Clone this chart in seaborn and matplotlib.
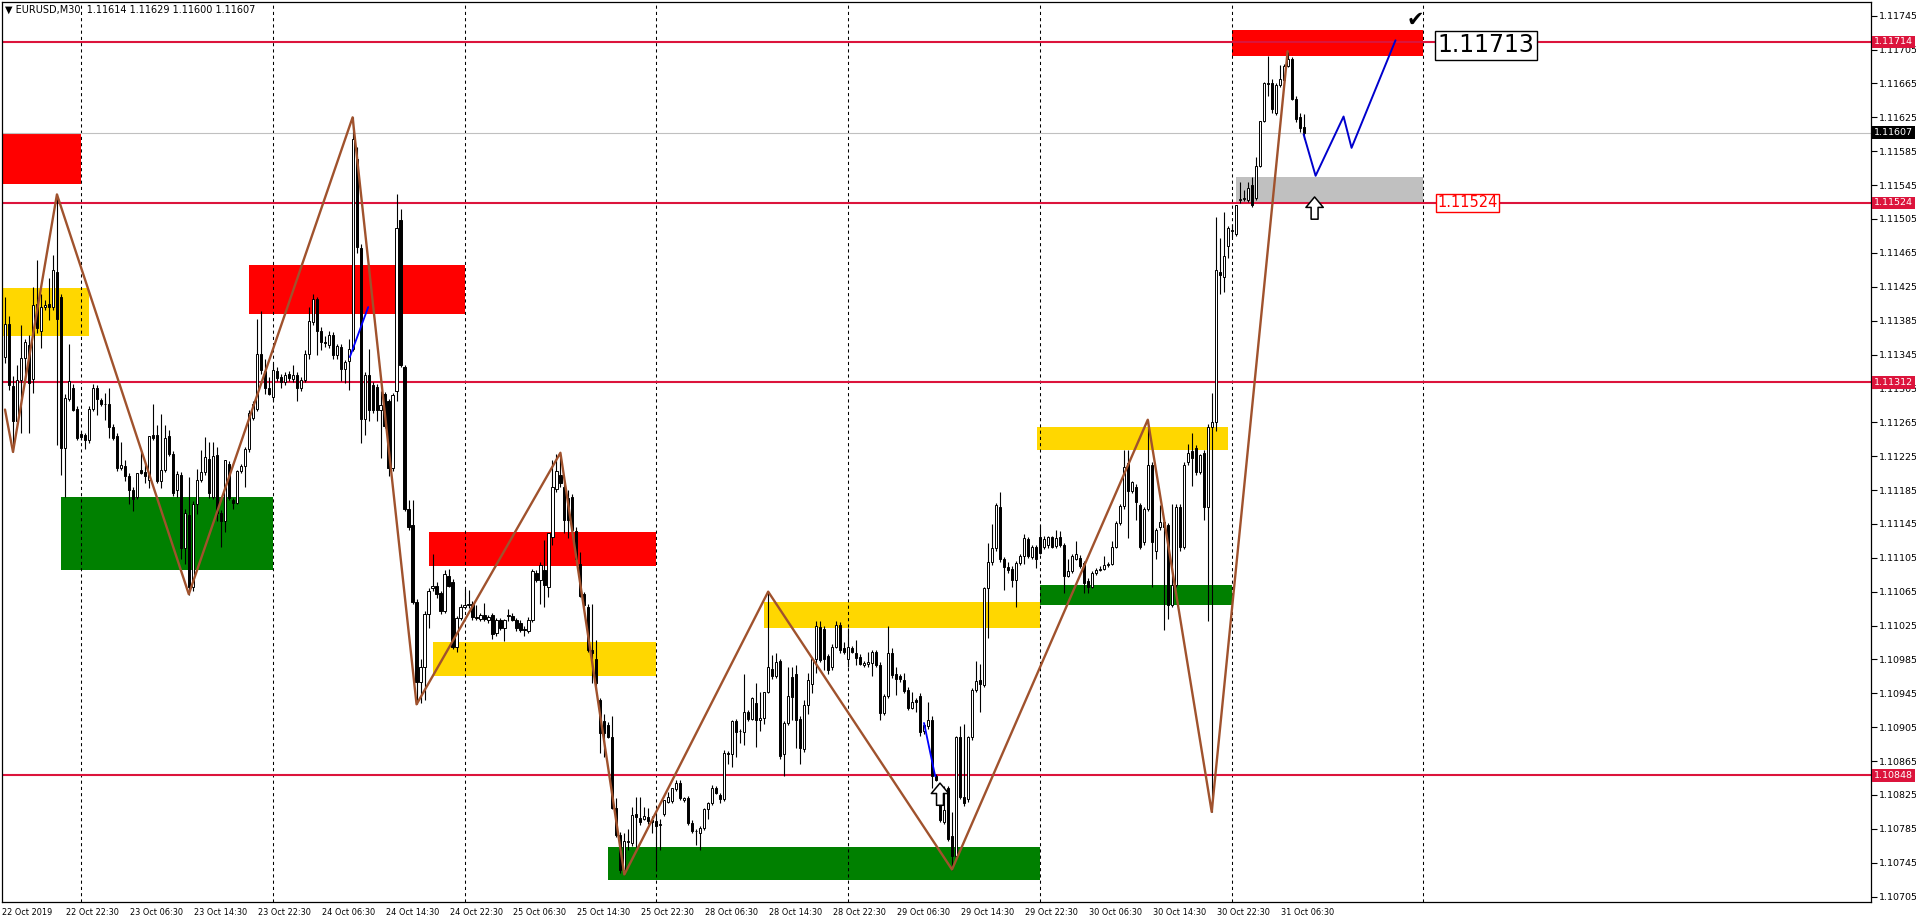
import numpy as np
import pandas as pd
import matplotlib
matplotlib.use("Agg")
import matplotlib.pyplot as plt
import seaborn as sns

# EURUSD M30 candles, values in points above 1.10000
opens = [
    1342, 1381, 1308, 1267, 1315, 1341, 1356, 1316, 1405, 1373,
    1401, 1405, 1401, 1442, 1413, 1235, 1293, 1306, 1281, 1251,
    1250, 1244, 1281, 1305, 1291, 1287, 1287, 1260, 1249, 1211,
    1213, 1202, 1185, 1177, 1209, 1206, 1197, 1250, 1250, 1196,
    1209, 1249, 1228, 1185, 1203, 1116, 1156, 1070, 1168, 1197,
    1206, 1222, 1177, 1226, 1158, 1148, 1216, 1173, 1170, 1207,
    1213, 1234, 1270, 1281, 1346, 1325, 1306, 1295, 1325, 1319,
    1312, 1322, 1316, 1321, 1306, 1315, 1346, 1383, 1410, 1373,
    1360, 1356, 1368, 1344, 1354, 1328, 1337, 1352, 1576, 1471,
    1269, 1321, 1309, 1307, 1279, 1298, 1290, 1211, 1302, 1504,
    1330, 1163, 1144, 1053, 958, 976, 1039, 1069, 1072, 1063,
    1042, 1084, 1077, 1000, 1034, 1047, 1049, 1051, 1035, 1033,
    1037, 1032, 1037, 1016, 1031, 1022, 1036, 1036, 1031, 1028,
    1021, 1019, 1032, 1087, 1079, 1091, 1071, 1130, 1186, 1203,
    1189, 1176, 1177, 1137, 1098, 1062, 1047, 996, 986, 937,
    912, 908, 893, 809, 778, 736, 770, 768, 803, 798,
    797, 799, 795, 794, 790, 803, 817, 818, 832, 839,
    819, 821, 792, 783, 780, 786, 808, 815, 833, 825,
    820, 875, 873, 912, 901, 899, 923, 915, 934, 913,
    916, 947, 974, 966, 983, 873, 910, 964, 968, 915,
    879, 931, 956, 985, 1023, 1021, 989, 976, 1000, 1026,
    999, 986, 999, 993, 988, 978, 980, 981, 994, 979,
    922, 942, 993, 968, 965, 961, 949, 928, 937, 942,
    900, 906, 914, 847, 834, 793, 833, 777, 753, 894,
    823, 820, 893, 949, 961, 955, 1069, 1100, 1116, 1165,
    1103, 1094, 1092, 1079, 1099, 1107, 1127, 1106, 1118, 1129,
    1118, 1120, 1129, 1119, 1130, 1120, 1084, 1089, 1104, 1105,
    1099, 1078, 1071, 1087, 1091, 1092, 1096, 1098, 1118, 1146,
    1166, 1217, 1184, 1189, 1167, 1124, 1163, 1215, 1113, 1141,
    1147, 1144, 1049, 1073, 1165, 1118, 1218, 1231, 1235, 1206,
    1229, 1165, 1260, 1265, 1442, 1437, 1473, 1491, 1487, 1528,
    1529, 1527, 1545, 1530, 1568, 1621, 1665, 1665, 1630, 1663,
    1669, 1686, 1694, 1647, 1626, 1614,
]
highs = [
    1413, 1390, 1320, 1333, 1380, 1363, 1368, 1425, 1457, 1416,
    1409, 1435, 1462, 1534, 1417, 1298, 1358, 1310, 1284, 1255,
    1252, 1284, 1310, 1309, 1294, 1300, 1306, 1263, 1252, 1242,
    1220, 1205, 1188, 1205, 1232, 1217, 1249, 1287, 1262, 1275,
    1262, 1256, 1231, 1208, 1206, 1163, 1200, 1172, 1210, 1232,
    1248, 1242, 1242, 1236, 1162, 1221, 1219, 1176, 1209, 1216,
    1236, 1280, 1290, 1387, 1396, 1340, 1319, 1335, 1330, 1322,
    1324, 1325, 1333, 1324, 1318, 1350, 1401, 1416, 1413, 1377,
    1367, 1373, 1372, 1358, 1357, 1338, 1363, 1625, 1590, 1475,
    1324, 1351, 1312, 1310, 1302, 1301, 1293, 1300, 1534, 1517,
    1333, 1173, 1173, 1056, 986, 1042, 1069, 1109, 1076, 1066,
    1090, 1092, 1080, 1036, 1050, 1068, 1067, 1054, 1049, 1040,
    1052, 1038, 1040, 1034, 1034, 1033, 1045, 1040, 1034, 1031,
    1025, 1035, 1092, 1090, 1100, 1126, 1134, 1220, 1228, 1228,
    1195, 1185, 1180, 1141, 1112, 1065, 1050, 1051, 1008, 940,
    920, 911, 918, 821, 781, 780, 785, 811, 823, 823,
    811, 809, 800, 803, 797, 819, 829, 833, 843, 843,
    822, 824, 795, 785, 788, 810, 817, 837, 835, 827,
    878, 877, 914, 915, 903, 968, 925, 941, 957, 947,
    947, 1065, 990, 992, 986, 912, 976, 976, 978, 918,
    937, 969, 985, 1030, 1030, 1024, 991, 1003, 1030, 1029,
    1006, 1022, 1001, 1008, 991, 983, 994, 996, 996, 982,
    944, 1024, 998, 976, 968, 969, 952, 947, 939, 945,
    910, 935, 918, 850, 837, 835, 836, 805, 895, 906,
    909, 895, 951, 983, 980, 1071, 1122, 1145, 1170, 1183,
    1106, 1100, 1095, 1101, 1109, 1133, 1130, 1120, 1120, 1144,
    1131, 1131, 1131, 1138, 1137, 1123, 1104, 1109, 1125, 1108,
    1101, 1081, 1089, 1093, 1095, 1107, 1100, 1125, 1148, 1168,
    1232, 1232, 1196, 1192, 1170, 1165, 1268, 1218, 1140, 1167,
    1149, 1146, 1169, 1168, 1168, 1218, 1239, 1252, 1238, 1228,
    1232, 1263, 1300, 1507, 1482, 1513, 1497, 1499, 1521, 1549,
    1539, 1549, 1555, 1578, 1621, 1667, 1698, 1670, 1665, 1687,
    1688, 1702, 1696, 1650, 1630, 1629,
]
lows = [
    1335, 1303, 1230, 1262, 1252, 1312, 1252, 1299, 1370, 1353,
    1398, 1386, 1398, 1238, 1203, 1177, 1290, 1278, 1244, 1244,
    1233, 1240, 1278, 1274, 1284, 1268, 1247, 1244, 1208, 1209,
    1196, 1169, 1160, 1174, 1204, 1193, 1187, 1244, 1193, 1187,
    1206, 1225, 1178, 1177, 1104, 1098, 1061, 1066, 1157, 1195,
    1203, 1175, 1174, 1148, 1118, 1136, 1173, 1163, 1168, 1205,
    1188, 1230, 1268, 1278, 1322, 1298, 1297, 1290, 1314, 1306,
    1309, 1314, 1313, 1290, 1302, 1312, 1340, 1380, 1344, 1350,
    1354, 1353, 1340, 1340, 1314, 1311, 1303, 1349, 1465, 1241,
    1250, 1266, 1276, 1267, 1223, 1258, 1202, 1208, 1290, 1330,
    1160, 1138, 1050, 932, 934, 937, 1022, 1066, 1058, 1039,
    1040, 1070, 997, 994, 1031, 1044, 1046, 1032, 1032, 1030,
    1030, 1028, 1009, 1013, 1020, 1007, 1030, 1030, 1019, 1017,
    1013, 1016, 1029, 1076, 1051, 1047, 1059, 1120, 1183, 1189,
    1134, 1128, 1135, 1101, 1059, 1046, 994, 957, 949, 874,
    870, 892, 808, 775, 733, 730, 760, 765, 764, 790,
    795, 791, 780, 735, 760, 800, 815, 816, 830, 819,
    817, 789, 780, 766, 760, 784, 797, 813, 826, 815,
    818, 862, 858, 870, 886, 884, 912, 913, 882, 900,
    909, 945, 962, 963, 868, 847, 908, 913, 880, 862,
    876, 921, 945, 969, 982, 972, 968, 973, 998, 993,
    991, 976, 992, 978, 978, 976, 976, 965, 976, 914,
    919, 939, 963, 943, 958, 945, 925, 926, 923, 895,
    897, 903, 833, 841, 793, 791, 771, 736, 750, 820,
    812, 817, 890, 946, 923, 952, 1010, 1097, 1113, 1100,
    1067, 1087, 1071, 1047, 1097, 1098, 1105, 1103, 1093, 1109,
    1115, 1117, 1116, 1117, 1118, 1064, 1082, 1087, 1102, 1093,
    1064, 1064, 1069, 1085, 1089, 1090, 1094, 1096, 1116, 1144,
    1163, 1128, 1182, 1150, 1115, 1120, 1160, 1070, 1103, 1138,
    1020, 1033, 1047, 1070, 1113, 1115, 1215, 1190, 1203, 1204,
    1150, 1030, 805, 1255, 1416, 1419, 1459, 1484, 1485, 1524,
    1526, 1525, 1519, 1527, 1566, 1619, 1650, 1630, 1628, 1661,
    1667, 1684, 1645, 1620, 1608, 1600,
]
closes = [
    1381, 1309, 1267, 1315, 1341, 1360, 1311, 1403, 1376, 1401,
    1404, 1401, 1445, 1387, 1235, 1294, 1314, 1280, 1247, 1248,
    1244, 1281, 1305, 1292, 1287, 1286, 1259, 1247, 1211, 1215,
    1201, 1185, 1174, 1205, 1205, 1202, 1249, 1246, 1196, 1209,
    1247, 1228, 1181, 1204, 1117, 1158, 1070, 1168, 1197, 1206,
    1224, 1181, 1225, 1158, 1148, 1220, 1175, 1170, 1207, 1213,
    1234, 1276, 1287, 1346, 1327, 1306, 1298, 1327, 1317, 1312,
    1321, 1317, 1321, 1306, 1315, 1346, 1385, 1410, 1373, 1360,
    1359, 1368, 1344, 1355, 1328, 1336, 1352, 1600, 1472, 1269,
    1321, 1279, 1279, 1279, 1285, 1261, 1211, 1297, 1494, 1333,
    1163, 1141, 1053, 958, 976, 1039, 1066, 1072, 1062, 1042,
    1086, 1072, 1000, 1034, 1047, 1049, 1051, 1035, 1034, 1037,
    1033, 1035, 1015, 1031, 1022, 1031, 1037, 1031, 1022, 1020,
    1020, 1032, 1089, 1079, 1097, 1073, 1134, 1189, 1207, 1193,
    1150, 1150, 1138, 1104, 1060, 1049, 996, 992, 957, 898,
    898, 894, 809, 778, 736, 771, 770, 801, 799, 793,
    800, 794, 793, 788, 790, 819, 823, 833, 839, 821,
    821, 792, 782, 782, 786, 808, 815, 833, 827, 820,
    875, 873, 912, 899, 900, 923, 915, 939, 914, 916,
    947, 976, 965, 982, 871, 910, 942, 941, 914, 880,
    931, 961, 985, 1024, 984, 986, 973, 1000, 1026, 996,
    994, 1000, 994, 987, 980, 981, 982, 994, 978, 922,
    942, 993, 967, 962, 962, 948, 928, 935, 935, 899,
    908, 914, 847, 843, 795, 807, 773, 753, 893, 823,
    815, 893, 949, 959, 956, 1069, 1100, 1117, 1167, 1103,
    1094, 1090, 1079, 1099, 1107, 1128, 1107, 1118, 1104, 1111,
    1127, 1129, 1118, 1128, 1120, 1083, 1089, 1107, 1109, 1095,
    1075, 1070, 1087, 1091, 1092, 1096, 1098, 1118, 1146, 1166,
    1212, 1184, 1194, 1171, 1118, 1163, 1215, 1124, 1138, 1147,
    1141, 1049, 1073, 1165, 1118, 1215, 1229, 1223, 1206, 1226,
    1165, 1260, 1265, 1445, 1439, 1461, 1494, 1492, 1521, 1529,
    1530, 1542, 1521, 1568, 1621, 1665, 1664, 1635, 1663, 1670,
    1686, 1694, 1647, 1623, 1612, 1607,
]

time_labels = [
    "22 Oct 2019", "22 Oct 22:30", "23 Oct 06:30", "23 Oct 14:30", "23 Oct 22:30",
    "24 Oct 06:30", "24 Oct 14:30", "24 Oct 22:30", "25 Oct 06:30", "25 Oct 14:30",
    "25 Oct 22:30", "28 Oct 06:30", "28 Oct 14:30", "28 Oct 22:30", "29 Oct 06:30",
    "29 Oct 14:30", "29 Oct 22:30", "30 Oct 06:30", "30 Oct 14:30", "30 Oct 22:30",
    "31 Oct 06:30",
]
separator_bars = [19, 67, 115, 163, 211, 259, 307, 355]

level_prices = [1.11714, 1.11524, 1.11312, 1.10848]
bid_price = 1.11607

# zigzag pivots (bar, points)
zz_bars = [0, 2, 13, 46, 87, 103, 139, 155, 191, 237, 286, 302, 321]
zz_pts = [1280, 1230, 1534, 1062, 1625, 932, 1229, 731, 1065, 737, 1268, 805, 1703]

# projected path drawn in blue
proj_bars = [325, 328, 335, 337, 348]
proj_pts = [1605, 1556, 1626, 1589, 1716]
small_blue_1 = ([86.3, 90.9], [1342, 1401])
small_blue_2 = ([230, 232.8], [910, 847])

# supply / demand zones
zone_x0 = [-1, -1, 14, 61, 106, 107, 190, 151, 258.3, 259, 307, 308]
zone_x1 = [19, 21, 67, 115, 163, 163, 259, 259, 306, 307, 355, 355]
zone_lo = [1546, 1367, 1090, 1393, 1095, 965, 1022, 725, 1232, 1049, 1698, 1525]
zone_hi = [1607, 1424, 1177, 1451, 1136, 1006, 1053, 764, 1260, 1073, 1728, 1555]
zone_col = ["#FF0000", "#FFD700", "#008000", "#FF0000", "#FF0000", "#FFD700",
            "#FFD700", "#008000", "#FFD700", "#008000", "#FF0000", "#C0C0C0"]

# up arrows: bar and tip price
arrow_bars = [327.75, 234]
arrow_pts = [1531, 839]


def to_price(v):
    return 1.1 + np.asarray(v, dtype=float) / 1e5


df = pd.DataFrame({"o": opens, "h": highs, "l": lows, "c": closes})
df = df.apply(to_price)
df["bar"] = np.arange(len(df))
up = df["c"] >= df["o"]

sns.set_style("white")
plt.rcParams["font.family"] = ["DejaVu Sans"]

fig = plt.figure(figsize=(19.16, 9.23), dpi=100)
ax = fig.add_axes([2 / 1916, 21 / 923, 1869 / 1916, 900 / 923])

# zones
for x0, x1, lo, hi, col in zip(zone_x0, zone_x1, zone_lo, zone_hi, zone_col):
    ax.fill_between([x0, x1], to_price(lo), to_price(hi), color=col, lw=0, zorder=1)

# day separators
for b in separator_bars:
    ax.axvline(b, color="black", lw=0.75, ls=(0, (3, 3)), zorder=1.5)

# horizontal levels
ax.axhline(bid_price, color="#C0C0C0", lw=0.8, zorder=1.6)
for p in level_prices:
    ax.axhline(p, color="#DC143C", lw=1.5, zorder=2)

# candles
ax.vlines(df["bar"], df["l"], df["h"], color="black", lw=0.8, zorder=3)
body_lo = df[["o", "c"]].min(axis=1)
body_h = (df["c"] - df["o"]).abs().clip(lower=2e-6)
ax.bar(df["bar"], body_h, bottom=body_lo, width=0.55,
       color=np.where(up, "white", "black"), edgecolor="black", linewidth=0.7, zorder=4)

# zigzag and projections
sns.lineplot(x=zz_bars, y=to_price(zz_pts), sort=False, estimator=None,
             color="#A0522D", lw=1.7, ax=ax, zorder=6)
sns.lineplot(x=proj_bars, y=to_price(proj_pts), sort=False, estimator=None,
             color="#0000CD", lw=1.4, ax=ax, zorder=6)
for xs, ys in (small_blue_1, small_blue_2):
    ax.plot(xs, to_price(ys), color="#0000FF", lw=1.3, zorder=6)

# hollow up arrows and check mark
for b, p in zip(arrow_bars, arrow_pts):
    ax.annotate("", xy=(b, to_price(p)), xytext=(0, -16), textcoords="offset points",
                arrowprops=dict(arrowstyle="simple,head_length=0.75,head_width=1.25,tail_width=0.5",
                                fc="white", ec="black", lw=1.1, shrinkA=0, shrinkB=0),
                zorder=7)
ax.text(353, 1.11740, "\u2714", fontsize=15, ha="center", va="center", color="black", zorder=7)

# text labels
ax.text(358.5, 1.11710, "1.11713", fontsize=17, ha="left", va="center", color="black", zorder=8,
        bbox=dict(boxstyle="square,pad=0.12", fc="white", ec="black", lw=1))
ax.text(358.5, 1.11524, "1.11524", fontsize=10.5, ha="left", va="center", color="#FF0000", zorder=8,
        bbox=dict(boxstyle="square,pad=0.1", fc="white", ec="#FF0000", lw=1))

# axes
ax.set_xlim(-0.75, 467.0)
ax.set_ylim(1.106986, 1.117612)
ax.yaxis.tick_right()
yt = np.arange(1.10705, 1.117455, 0.0004)
ax.set_yticks(yt)
ax.set_yticklabels([f"{v:.5f}" for v in yt])
ax.tick_params(axis="y", labelsize=6.8, length=4, width=0.8, direction="out", pad=2, colors="black")
xt = [16 * k - 0.75 for k in range(len(time_labels))]
ax.set_xticks(xt)
ax.set_xticklabels(time_labels, ha="left")
ax.tick_params(axis="x", labelsize=5.9, length=3, width=0.8, direction="out", pad=1.5, colors="black")
for s in ax.spines.values():
    s.set_visible(True)
    s.set_color("black")
    s.set_linewidth(0.9)

ytrans = ax.get_yaxis_transform()
for p in level_prices:
    ax.text(1.0015, p, f"{p:.5f}", transform=ytrans, fontsize=6.8, color="white", ha="left", va="center",
            zorder=10, clip_on=False, bbox=dict(boxstyle="square,pad=0.18", fc="#DC143C", ec="none"))
ax.text(1.0015, bid_price, f"{bid_price:.5f}", transform=ytrans, fontsize=6.8, color="white", ha="left",
        va="center", zorder=10, clip_on=False, bbox=dict(boxstyle="square,pad=0.18", fc="black", ec="none"))

fig.text(5 / 1916, 1 - 10 / 923, "\u25bc EURUSD,M30  1.11614 1.11629 1.11600 1.11607",
         fontsize=7, va="center", ha="left", color="black")

fig.savefig("out.png", dpi=100)
